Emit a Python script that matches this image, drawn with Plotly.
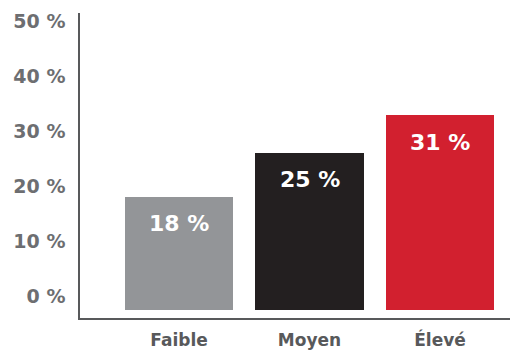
import plotly.graph_objects as go

# Data
categories = ["Faible", "Moyen", "Élevé"]
shares = [18, 25, 31]
bar_labels = ["18 %", "25 %", "31 %"]
bar_colors = ["#939598", "#231f20", "#d2202f"]
tick_values = [0, 10, 20, 30, 40, 50]
tick_labels = ["0 %", "10 %", "20 %", "30 %", "40 %", "50 %"]

FONT = "DejaVu Sans"

fig = go.Figure()

# Bars on their own (hidden) value axis
fig.add_trace(go.Bar(
    x=list(range(len(categories))),
    y=shares,
    width=0.828,
    marker=dict(color=bar_colors, line=dict(width=0)),
    yaxis="y2",
    hoverinfo="skip",
    showlegend=False,
))

# Value labels inside the top of each bar
for i, (v, lab) in enumerate(zip(shares, bar_labels)):
    fig.add_annotation(
        x=i, y=v, xref="x", yref="y2",
        text=lab, showarrow=False,
        yanchor="middle", yshift=-27,
        font=dict(family=FONT, size=22, color="white", weight="bold"),
    )

# Invisible trace so the percentage scale axis is drawn
fig.add_trace(go.Scatter(
    x=[0], y=[0], mode="markers", marker=dict(opacity=0),
    hoverinfo="skip", showlegend=False,
))

fig.update_layout(
    width=510, height=350,
    margin=dict(l=80, r=0, t=13, b=28),
    paper_bgcolor="white", plot_bgcolor="white",
    bargap=0,
    xaxis=dict(
        range=[-0.7586, 2.536],
        tickmode="array",
        tickvals=list(range(len(categories))),
        ticktext=categories,
        showgrid=False, zeroline=False,
        showline=True, linecolor="#58595b", linewidth=1.5,
        ticks="",
        ticklabelstandoff=6,
        tickfont=dict(family=FONT, size=17, color="#58595b", weight="bold"),
    ),
    yaxis=dict(
        range=[-4.12, 51.26],
        tickmode="array",
        tickvals=tick_values,
        ticktext=tick_labels,
        showgrid=False, zeroline=False,
        showline=True, linecolor="#58595b", linewidth=1.5,
        ticks="",
        ticklabelstandoff=9,
        ticklabelshift=1,
        tickfont=dict(family=FONT, size=19, color="#6d6e71", weight="bold"),
    ),
    yaxis2=dict(
        range=[-1.336, 47.25],
        overlaying="y",
        visible=False,
        showgrid=False, zeroline=False,
    ),
)

fig.write_html("out.html")
